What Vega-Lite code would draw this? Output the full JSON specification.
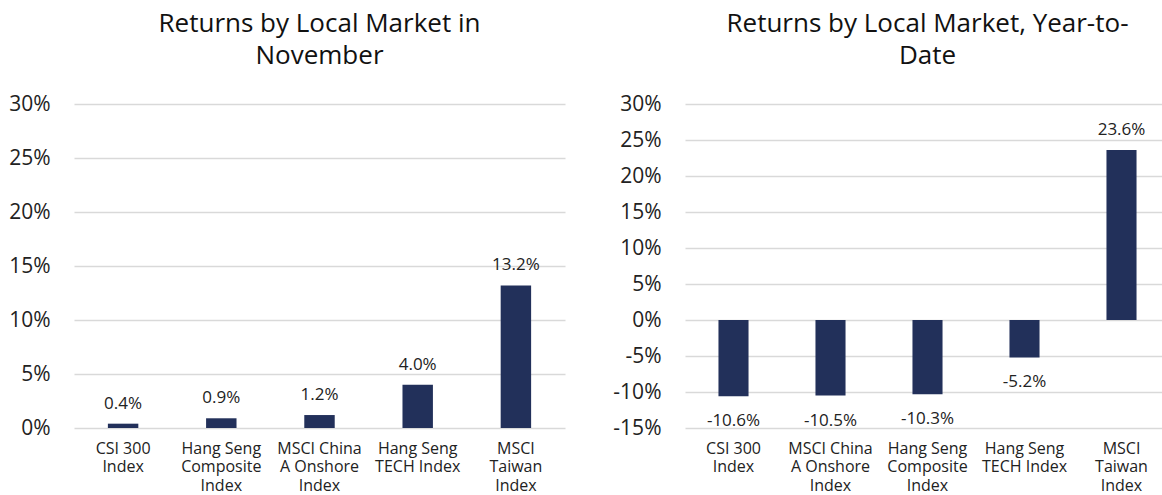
{
  "$schema": "https://vega.github.io/schema/vega-lite/v6.json",
  "padding": {"left": 8, "top": 11, "right": 0, "bottom": 0},
  "background": "white",
  "spacing": 47,
  "config": {
    "locale": {"number": {"decimal": ".", "thousands": ",", "grouping": [3], "currency": ["$", ""], "minus": "-"}},
    "view": {"stroke": null},
    "font": "Open Sans",
    "title": {"fontSize": 26, "fontWeight": "normal", "color": "#111111", "lineHeight": 32, "anchor": "middle", "offset": 24, "font": "Open Sans"},
    "axisY": {"grid": true, "gridColor": "#d9d9d9", "gridWidth": 1.5, "domain": false, "ticks": false, "labelFontSize": 21, "labelColor": "#222222", "labelPadding": 24, "title": null, "format": ".0%", "labelFont": "Open Sans"},
    "axisX": {"grid": false, "domain": false, "ticks": false, "labelFontSize": 16, "labelColor": "#222222", "labelPadding": 12, "labelAngle": 0, "title": null, "labelLineHeight": 18.5, "labelFont": "Open Sans",
      "labelExpr": "{'CSI 300 Index': ['CSI 300', 'Index'], 'Hang Seng Composite Index': ['Hang Seng', 'Composite', 'Index'], 'MSCI China A Onshore Index': ['MSCI China', 'A Onshore', 'Index'], 'Hang Seng TECH Index': ['Hang Seng', 'TECH Index'], 'MSCI Taiwan Index': ['MSCI', 'Taiwan', 'Index']}[datum.value]"}
  },
  "datasets": {
    "nov": [
      {"index": "CSI 300 Index", "ret": 0.004},
      {"index": "Hang Seng Composite Index", "ret": 0.009},
      {"index": "MSCI China A Onshore Index", "ret": 0.012},
      {"index": "Hang Seng TECH Index", "ret": 0.040},
      {"index": "MSCI Taiwan Index", "ret": 0.132}
    ],
    "ytd": [
      {"index": "CSI 300 Index", "ret": -0.106},
      {"index": "MSCI China A Onshore Index", "ret": -0.105},
      {"index": "Hang Seng Composite Index", "ret": -0.103},
      {"index": "Hang Seng TECH Index", "ret": -0.052},
      {"index": "MSCI Taiwan Index", "ret": 0.236}
    ]
  },
  "hconcat": [
    {
      "title": {"text": ["Returns by Local Market in", "November"]},
      "width": 491,
      "height": 324,
      "data": {"name": "nov"},
      "encoding": {
        "x": {"field": "index", "type": "nominal", "sort": null, "scale": {"paddingInner": 0.69, "paddingOuter": 0.345}},
        "y": {"field": "ret", "type": "quantitative", "scale": {"domain": [0, 0.3], "nice": false}, "axis": {"values": [0, 0.05, 0.1, 0.15, 0.2, 0.25, 0.3]}}
      },
      "layer": [
        {"mark": {"type": "bar", "color": "#22305a"}},
        {"mark": {"type": "text", "baseline": "bottom", "dy": -11, "fontSize": 17, "color": "#222222", "font": "Open Sans"},
         "encoding": {"text": {"field": "ret", "format": ".1%"}}}
      ]
    },
    {
      "title": {"text": ["Returns by Local Market, Year-to-", "Date"]},
      "width": 485,
      "height": 324,
      "data": {"name": "ytd"},
      "encoding": {
        "x": {"field": "index", "type": "nominal", "sort": null, "scale": {"paddingInner": 0.69, "paddingOuter": 0.345}},
        "y": {"field": "ret", "type": "quantitative", "scale": {"domain": [-0.15, 0.3], "nice": false}, "axis": {"values": [-0.15, -0.1, -0.05, 0, 0.05, 0.1, 0.15, 0.2, 0.25, 0.3]}}
      },
      "layer": [
        {"mark": {"type": "bar", "color": "#22305a"}},
        {"transform": [{"filter": "datum.ret >= 0"}],
         "mark": {"type": "text", "baseline": "bottom", "dy": -11, "fontSize": 17, "color": "#222222", "font": "Open Sans"},
         "encoding": {"text": {"field": "ret", "format": ".1%"}}},
        {"transform": [{"filter": "datum.ret < 0"}],
         "mark": {"type": "text", "baseline": "top", "dy": 17, "fontSize": 17, "color": "#222222", "font": "Open Sans"},
         "encoding": {"text": {"field": "ret", "format": ".1%"}}}
      ]
    }
  ]
}
